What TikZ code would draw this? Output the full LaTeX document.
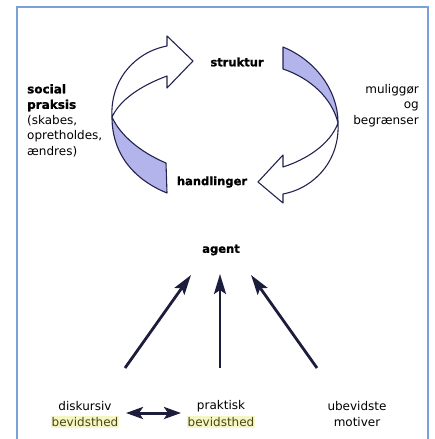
\documentclass[tikz,border=0pt]{standalone}
\usepackage{fontspec}
\setmainfont{DejaVu Sans}[BoldFeatures={FakeBold=1.2}]
\usetikzlibrary{arrows.meta}

\definecolor{framecol}{RGB}{122,162,216}
\definecolor{bandcol}{RGB}{180,180,236}
\definecolor{linecol}{RGB}{35,35,79}
\definecolor{arrowcol}{RGB}{28,28,60}
\definecolor{hlcol}{RGB}{246,246,196}
\definecolor{hltext}{RGB}{70,70,25}

\begin{document}
\begin{tikzpicture}[x=1pt,y=-1pt,
        ribbon/.style={draw=linecol,line width=1.1pt,line join=round},
        lbl/.style={font=\fontsize{11.5}{15}\selectfont\bfseries,inner sep=0pt},
        txt/.style={font=\fontsize{12}{15.5}\selectfont,inner sep=0pt},
        hl/.style={txt,fill=hlcol,text=hltext,inner sep=1pt},
        uparrow/.style={arrowcol,line width=2.8pt,-{Stealth[length=20pt,width=12pt,inset=4pt]}},
        twoway/.style={arrowcol,line width=3pt,{Stealth[length=17pt,width=12pt,inset=4pt]}-{Stealth[length=17pt,width=12pt,inset=4pt]}}]
        \useasboundingbox (0,0) rectangle (435,439);
        % \draw[very thin,color=gray] (0,0) grid[step=20] (435,439);
        \draw[framecol,line width=2pt] (17,441) -- (17,7) -- (428,7) -- (428,441);

        % left ribbon: shaded tail, white arrow up to struktur
        \draw[ribbon,fill=bandcol] (112,117) .. controls (112,155) and (135,180) .. (167,193)
            -- (166,163) .. controls (140,152) and (120,135) .. (112,117) -- cycle;
        \draw[ribbon,fill=white] (112,117) .. controls (110,80) and (135,52) .. (167,46)
            -- (167,36) -- (193,61) -- (167,88) -- (167,76)
            .. controls (140,86) and (120,100) .. (112,117) -- cycle;

        % right ribbon: shaded tail, white arrow down to handlinger
        \draw[ribbon,fill=bandcol] (283,47) .. controls (315,60) and (338,90) .. (338,123)
            .. controls (332,98) and (310,78) .. (283,69) -- cycle;
        \draw[ribbon,fill=white] (338,123) .. controls (340,160) and (315,188) .. (283,194)
            -- (283,203) -- (258,182) -- (283,155) -- (283,167)
            .. controls (305,160) and (330,145) .. (338,123) -- cycle;

        \node[lbl] (struktur) at (237,62) {struktur};
        \node[lbl] (handlinger) at (212,182) {handlinger};
        \node[txt,anchor=north west,align=left] (praksis) at (27,84)
            {\textbf{social}\\\textbf{praksis}\\(skabes,\\opretholdes,\\ændres)};
        \node[txt,anchor=north east,align=right] (muliggor) at (419,84)
            {muliggør\\og\\begrænser};

        % agent and the three sources
        \node[lbl] (agent) at (221,250) {agent};
        \node[txt] (disk) at (85,406) {diskursiv};
        \node[hl] (diskb) at (85,422) {bevidsthed};
        \node[txt] (prak) at (221,406) {praktisk};
        \node[hl] (prakb) at (221,422) {bevidsthed};
        \node[txt] (ubev) at (357,406) {ubevidste};
        \node[txt] (motiv) at (357,422) {motiver};

        \coordinate (dfoot) at (125,368);
        \coordinate (dtip) at (191,275);
        \coordinate (pfoot) at (220,368);
        \coordinate (ptip) at (220,274);
        \coordinate (ufoot) at (317,368);
        \coordinate (utip) at (251,275);
        \draw[uparrow] (dfoot) -- (dtip);
        \draw[uparrow] (pfoot) -- (ptip);
        \draw[uparrow] (ufoot) -- (utip);

        \coordinate (dright) at (126,413);
        \coordinate (pleft) at (181,413);
        \draw[twoway] (dright) -- (pleft);
\end{tikzpicture}
\end{document}
